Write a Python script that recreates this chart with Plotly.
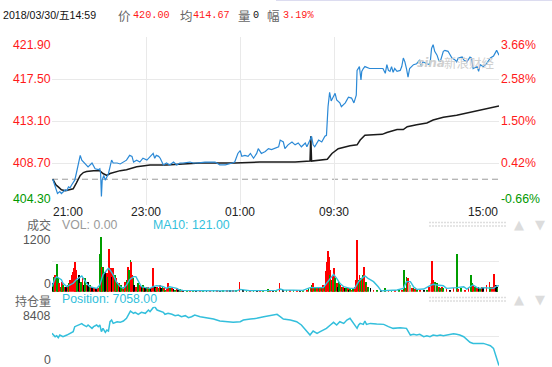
import plotly.graph_objects as go

# ---------------- data ----------------
PREV_CLOSE = 407.0
TOTAL_MIN = 570
tick_minutes = [0, 120, 240, 360, 570]
tick_labels = ["21:00", "23:00", "01:00", "09:30", "15:00"]
price_ticks = [404.3, 408.7, 413.1, 417.5, 421.9]
vol_ticks = [0, 600, 1200]
pos_ticks = [0, 4204, 8408]

price_time = [1, 5, 7, 10, 12, 17, 19, 21, 23, 25, 27, 29, 31, 34, 36, 38, 42, 46, 51, 55,
              59, 61, 62, 63, 64, 66, 68, 70, 72, 74, 76, 78, 83, 87, 91, 95, 99, 102, 104, 108,
              112, 116, 121, 125, 129, 131, 133, 136, 138, 142, 146, 150, 155, 159, 163, 167, 172, 176, 180, 185,
              195, 208, 214, 221, 230, 233, 237, 240, 242, 246, 250, 253, 257, 261, 263, 267, 272, 276, 280, 284,
              289, 291, 295, 297, 301, 306, 310, 314, 318, 323, 325, 329, 331, 333, 335, 340, 344, 348, 350, 352,
              354, 356, 358, 361, 363, 367, 369, 374, 378, 382, 385, 388, 389, 392, 394, 395, 397, 399, 405, 414,
              422, 425, 427, 429, 431, 433, 435, 437, 440, 444, 446, 448, 450, 452, 454, 456, 459, 461, 465, 469,
              471, 473, 478, 482, 484, 486, 488, 491, 493, 495, 499, 501, 505, 510, 514, 516, 518, 523, 525, 529,
              533, 535, 537, 542, 544, 546, 550, 554, 559, 563, 567, 569, 570]
price_value = [407.0, 405.9, 405.5, 405.7, 405.5, 405.9, 405.8, 406.2, 406.1, 406.4, 406.6, 406.9, 407.6, 408.7, 409.5, 409.0, 408.7, 408.3, 408.7, 408.1,
               408.0, 408.1, 407.6, 405.2, 406.9, 407.4, 406.9, 407.3, 407.6, 408.3, 409.0, 408.7, 408.7, 408.6, 408.8, 409.0, 409.5, 409.4, 408.8, 409.0,
               408.8, 409.2, 409.0, 409.4, 409.7, 409.2, 409.5, 409.4, 409.2, 408.5, 408.7, 408.5, 408.8, 408.5, 408.7, 408.7, 408.8, 408.8, 408.7, 408.7,
               408.8, 408.8, 408.5, 408.5, 408.7, 408.8, 409.7, 410.0, 409.4, 409.5, 409.4, 409.7, 409.2, 409.7, 410.2, 409.7, 409.9, 410.2, 410.1, 410.2,
               410.4, 411.1, 410.9, 410.2, 410.6, 410.9, 410.6, 410.8, 410.4, 410.8, 410.4, 411.1, 411.5, 410.6, 410.4, 411.1, 410.9, 411.5, 411.6, 414.6,
               416.1, 415.2, 415.5, 416.0, 415.3, 415.0, 414.6, 415.0, 415.6, 415.5, 415.0, 415.8, 418.4, 418.8, 417.4, 418.3, 418.6, 418.8, 418.6, 418.6,
               418.6, 418.1, 419.0, 418.4, 418.3, 418.8, 418.2, 418.6, 418.3, 418.4, 418.8, 419.7, 419.3, 418.6, 417.7, 418.6, 418.8, 419.0, 419.1, 419.5,
               418.8, 419.3, 419.1, 419.0, 420.7, 421.1, 420.4, 420.0, 419.5, 419.3, 420.4, 420.5, 420.4, 419.7, 419.5, 419.3, 419.7, 419.8, 419.5, 419.3,
               419.8, 419.7, 418.6, 418.8, 418.3, 419.0, 418.8, 419.1, 419.7, 419.9, 420.5, 420.2, 420.0]

avg_time = [1, 5, 8, 12, 17, 21, 27, 31, 36, 40, 44, 53, 61, 65, 70, 74, 78, 87, 95, 99,
            108, 125, 146, 167, 189, 233, 265, 310, 329, 330, 331, 351, 357, 365, 374, 380, 389, 393, 399, 421,
            427, 440, 448, 453, 465, 478, 486, 499, 516, 533, 550, 569, 570]
avg_value = [407.0, 406.4, 406.2, 405.9, 405.8, 405.9, 406.0, 406.6, 407.4, 407.7, 407.8, 407.9, 407.9, 407.6, 407.4, 407.6, 407.7, 407.9, 408.0, 408.1,
             408.3, 408.5, 408.5, 408.6, 408.7, 408.7, 408.8, 408.8, 408.9, 411.5, 408.9, 409.1, 409.7, 410.2, 410.4, 410.5, 410.6, 411.1, 411.6, 411.7,
             411.9, 412.2, 412.2, 412.5, 412.7, 412.9, 413.2, 413.5, 413.7, 414.0, 414.3, 414.6, 414.67]

vol_time = [1, 3, 4, 6, 7, 8, 9, 11, 13, 14, 16, 18, 20, 21, 23, 25, 26, 28, 29, 31,
            32, 34, 36, 37, 39, 41, 42, 44, 46, 48, 49, 51, 53, 54, 56, 58, 59, 61, 62, 64,
            65, 67, 68, 70, 71, 73, 75, 76, 78, 80, 82, 83, 85, 87, 88, 90, 92, 93, 95, 97,
            98, 100, 101, 102, 104, 105, 107, 109, 110, 112, 114, 116, 117, 119, 121, 122, 124, 126, 127, 129,
            131, 133, 134, 136, 138, 139, 141, 143, 144, 146, 148, 150, 153, 155, 157, 159, 161, 163, 165, 167,
            172, 176, 180, 184, 189, 193, 197, 201, 206, 210, 214, 218, 223, 227, 231, 235, 239, 244, 248, 252,
            257, 261, 265, 269, 275, 278, 282, 286, 290, 295, 299, 303, 308, 312, 316, 320, 325, 327, 330, 332,
            333, 335, 338, 340, 342, 344, 346, 348, 349, 350, 352, 353, 354, 355, 357, 358, 360, 361, 363, 365,
            366, 368, 370, 371, 373, 375, 377, 378, 380, 382, 384, 386, 388, 389, 391, 392, 394, 395, 397, 398,
            400, 401, 403, 406, 410, 414, 420, 425, 429, 433, 437, 442, 446, 449, 451, 452, 454, 455, 457, 459,
            461, 463, 465, 469, 474, 478, 481, 483, 485, 486, 488, 490, 491, 493, 495, 497, 499, 503, 508, 512,
            516, 518, 522, 527, 531, 534, 536, 537, 539, 542, 544, 546, 548, 550, 554, 558, 559, 561, 564, 566,
            567, 568]
vol_value = [170, 300, 340, 550, 240, 270, 170, 100, 200, 135, 100, 100, 135, 170, 236, 337, 404, 485, 592, 437,
             236, 337, 168, 202, 269, 135, 269, 135, 202, 135, 121, 100, 100, 81, 67, 100, 67, 754, 1097, 505,
             505, 370, 404, 370, 303, 861, 471, 303, 471, 337, 269, 202, 168, 100, 135, 67, 100, 202, 236, 505,
             437, 640, 606, 337, 269, 135, 100, 135, 168, 135, 100, 135, 67, 81, 100, 100, 81, 67, 67, 485,
             100, 67, 100, 67, 135, 67, 100, 67, 34, 67, 168, 67, 67, 47, 34, 67, 34, 47, 34, 27,
             20, 20, 20, 13, 20, 20, 13, 13, 27, 20, 13, 27, 20, 20, 27, 20, 188, 34, 20, 27,
             20, 13, 20, 20, 47, 27, 20, 20, 168, 20, 27, 20, 20, 27, 20, 34, 27, 67, 100, 135,
             168, 100, 67, 100, 100, 67, 135, 100, 417, 606, 821, 707, 337, 437, 236, 337, 485, 269, 168, 100,
             202, 135, 100, 100, 67, 81, 67, 34, 67, 34, 67, 100, 236, 1043, 236, 337, 283, 269, 337, 505,
             202, 135, 100, 67, 34, 34, 20, 67, 34, 34, 20, 27, 34, 437, 67, 303, 269, 168, 135, 67,
             67, 47, 34, 34, 27, 34, 100, 168, 619, 236, 202, 135, 168, 100, 67, 100, 67, 47, 34, 67,
             754, 54, 67, 34, 67, 337, 168, 135, 100, 67, 100, 67, 100, 67, 135, 202, 100, 100, 350, 135,
             100, 67]
vol_side = ["k", "g", "r", "g", "r", "g", "r", "g", "r", "g", "r", "k", "r", "g", "r", "r", "r", "r", "r", "r",
            "g", "k", "r", "g", "r", "k", "g", "r", "k", "g", "r", "k", "g", "r", "k", "g", "r", "g", "g", "r",
            "g", "r", "k", "r", "g", "r", "r", "k", "r", "g", "r", "g", "r", "k", "g", "r", "g", "r", "g", "r",
            "g", "g", "r", "r", "g", "k", "r", "k", "g", "r", "k", "g", "r", "k", "g", "r", "g", "k", "r", "r",
            "k", "g", "r", "g", "r", "k", "g", "r", "g", "r", "r", "g", "r", "k", "g", "r", "k", "g", "r", "k",
            "g", "r", "g", "k", "r", "g", "k", "r", "g", "r", "k", "g", "r", "k", "r", "g", "r", "k", "g", "r",
            "g", "k", "r", "g", "g", "r", "k", "g", "r", "k", "g", "r", "g", "r", "k", "g", "r", "g", "r", "g",
            "r", "g", "r", "g", "r", "g", "r", "g", "r", "r", "r", "r", "g", "r", "g", "r", "r", "g", "r", "k",
            "g", "r", "g", "r", "k", "g", "r", "k", "g", "r", "g", "r", "r", "r", "g", "r", "g", "r", "g", "r",
            "g", "r", "g", "k", "r", "g", "k", "g", "r", "g", "r", "g", "r", "g", "r", "g", "r", "p", "lg", "r",
            "g", "r", "g", "r", "k", "g", "r", "p", "r", "r", "g", "p", "g", "r", "g", "r", "g", "r", "k", "r",
            "g", "r", "g", "r", "r", "g", "g", "r", "g", "r", "k", "g", "r", "k", "r", "r", "g", "r", "r", "k",
            "k", "g"]

ma_time = [0, 2, 4, 6, 8, 10, 12, 14, 19, 23, 27, 31, 36, 38, 40, 44, 48, 53, 57, 61,
           63, 65, 70, 72, 74, 78, 82, 87, 91, 95, 99, 104, 107, 110, 114, 119, 125, 129, 133, 138,
           142, 146, 150, 155, 159, 163, 167, 189, 210, 235, 240, 244, 252, 286, 291, 295, 320, 329, 337, 346,
           350, 355, 359, 363, 367, 372, 380, 386, 391, 395, 399, 403, 410, 416, 420, 423, 440, 448, 452, 457,
           461, 465, 474, 482, 486, 491, 499, 503, 508, 516, 525, 529, 533, 537, 542, 546, 550, 559, 563, 567, 570]
ma_value = [100, 170, 270, 300, 280, 270, 240, 170, 100, 135, 170, 240, 300, 316, 270, 170, 100, 81, 67, 135,
            240, 337, 437, 471, 437, 337, 202, 100, 67, 135, 240, 303, 303, 202, 100, 81, 67, 100, 121, 114,
            100, 67, 100, 81, 67, 34, 27, 20, 20, 13, 47, 34, 20, 27, 54, 34, 27, 81, 87, 81,
            168, 269, 350, 269, 168, 100, 67, 67, 202, 269, 316, 269, 202, 100, 13, 20, 34, 67, 202, 202,
            100, 47, 54, 121, 148, 135, 121, 67, 67, 81, 100, 54, 100, 135, 81, 67, 81, 67, 67, 114, 121]

pos_time = [0, 2, 4, 6, 8, 10, 14, 19, 23, 27, 29, 34, 38, 40, 44, 46, 51, 53, 57, 59,
            61, 63, 65, 68, 70, 72, 74, 76, 78, 83, 87, 91, 95, 100, 104, 106, 110, 114, 119, 123,
            125, 129, 131, 134, 138, 142, 144, 148, 153, 157, 161, 165, 170, 174, 178, 182, 189, 197, 206, 214,
            223, 231, 240, 244, 253, 261, 270, 278, 287, 291, 295, 304, 312, 318, 325, 329, 333, 338, 342, 346,
            350, 355, 359, 363, 367, 372, 376, 380, 384, 389, 391, 393, 397, 399, 401, 406, 414, 423, 429, 435,
            444, 452, 457, 461, 465, 469, 474, 478, 482, 486, 491, 495, 499, 503, 508, 512, 516, 520, 525, 529,
            533, 537, 542, 550, 554, 559, 563, 567, 570]
pos_value = [4610, 4370, 4130, 4280, 3990, 4370, 4130, 4370, 4610, 4850, 5560, 5800, 5990, 5800, 5560, 5800, 5320, 5560, 5800, 5560,
             5800, 4850, 5320, 4750, 5080, 4940, 6270, 6510, 6030, 6270, 6180, 6370, 6750, 7790, 7460, 7600, 7320, 7600, 7460, 7930,
             7700, 8270, 8408, 7930, 7790, 7600, 7320, 7460, 7320, 7130, 7220, 6980, 7130, 6840, 6980, 7220, 6980, 6840, 6650, 6370,
             6270, 6180, 6270, 6510, 6650, 6750, 6980, 7130, 7320, 6980, 6650, 6510, 6270, 5800, 4940, 4370, 4940, 4610, 4850, 5080,
             5320, 5800, 6180, 5800, 6270, 6030, 6510, 6750, 6030, 5320, 5800, 6030, 5890, 6370, 5890, 6030, 5940, 5890, 5560, 5320,
             5420, 5320, 4370, 4470, 4370, 4470, 4130, 4280, 4130, 4370, 4280, 4370, 4280, 4370, 4470, 4560, 4470, 4370, 4130, 3660,
             3330, 3180, 3180, 3180, 3040, 2850, 2470, 1050, 0]

header_date = "2018/03/30/五14:59"
last_price = "420.00"
avg_price = "414.67"
last_vol = "0"
change_pct = "3.19%"
vol_now = "VOL: 0.00"
ma10_now = "MA10: 121.00"
pos_now = "Position: 7058.00"

# ---------------- styling ----------------
W, H = 552, 367
FONT = "Liberation Sans, Arial, sans-serif"
CJK = "Noto Sans CJK SC, sans-serif"
RED = "#ff1a1a"
GREEN = "#009900"
GRID = "#e9e9e9"
CYAN = "#33bfdc"
side_colors = {"r": "#ff0000", "g": "#009d00", "k": "#000000", "p": "#ff8c8c", "lg": "#8fd18f"}


def fx(p):
    return p / W


def fy(p):
    return 1 - p / H


XDOM = [fx(52), fx(499)]
fig = go.Figure()

fig.add_trace(go.Scatter(x=avg_time, y=avg_value, mode="lines",
                         line=dict(color="#1b1b1b", width=1.5), xaxis="x", yaxis="y", hoverinfo="skip"))
fig.add_trace(go.Scatter(x=price_time, y=price_value, mode="lines",
                         line=dict(color="#2b89d6", width=1.2), xaxis="x", yaxis="y", hoverinfo="skip"))
fig.add_trace(go.Bar(x=vol_time, y=vol_value, width=1.0,
                     marker=dict(color=[side_colors[s] for s in vol_side], line=dict(width=0)),
                     xaxis="x2", yaxis="y2", hoverinfo="skip"))
fig.add_trace(go.Scatter(x=ma_time, y=ma_value, mode="lines",
                         line=dict(color=CYAN, width=1.4), xaxis="x2", yaxis="y2", hoverinfo="skip"))
fig.add_trace(go.Scatter(x=pos_time, y=pos_value, mode="lines",
                         line=dict(color=CYAN, width=1.5), xaxis="x3", yaxis="y3", hoverinfo="skip"))

axis_common = dict(range=[0, TOTAL_MIN], domain=XDOM, showticklabels=False, zeroline=False,
                   showline=False, ticks="", fixedrange=True)
fig.update_layout(
    width=W, height=H, margin=dict(l=0, r=0, t=0, b=0, pad=0),
    paper_bgcolor="white", plot_bgcolor="white", showlegend=False, bargap=0,
    xaxis=dict(**axis_common, anchor="y", showgrid=True, gridcolor=GRID, gridwidth=1,
               tickvals=tick_minutes[1:4]),
    yaxis=dict(domain=[fy(205), fy(37)], range=[price_ticks[0], price_ticks[-1]], tickvals=price_ticks,
               showgrid=True, gridcolor=GRID, showticklabels=False, zeroline=False, ticks="", anchor="x"),
    xaxis2=dict(**axis_common, anchor="y2", showgrid=False),
    yaxis2=dict(domain=[fy(291.7), fy(232)], range=[0, vol_ticks[-1]], tickvals=vol_ticks,
                showgrid=True, gridcolor=GRID, showticklabels=False, zeroline=False, ticks="", anchor="x2"),
    xaxis3=dict(**axis_common, anchor="y3", showgrid=False),
    yaxis3=dict(domain=[fy(365.7), fy(306.7)], range=[0, pos_ticks[-1]], tickvals=pos_ticks,
                showgrid=True, gridcolor=GRID, showticklabels=False, zeroline=False, ticks="", anchor="x3"),
)

shapes = [
    dict(type="line", xref="x", yref="y", x0=0, x1=TOTAL_MIN, y0=PREV_CLOSE, y1=PREV_CLOSE,
         line=dict(color="#9a9a9a", width=1, dash="6px,4px"), layer="below"),
    dict(type="line", xref="paper", yref="paper", x0=fx(276), x1=1, y0=fy(0.5), y1=fy(0.5),
         line=dict(color="#dcdcf0", width=1)),
]
for yy in (222.5, 226):
    for base in (0, 75):
        shapes.append(dict(type="line", xref="paper", yref="paper", x0=fx(429), x1=fx(506),
                           y0=fy(yy + base), y1=fy(yy + base),
                           line=dict(color="#dedede", width=1.5, dash="2px,1px")))
fig.update_layout(shapes=shapes)

ann = []


def A(text, x, y, color, size=12.3, xanchor="left", family=FONT, xref="paper", yref="paper", yshift=0):
    ann.append(dict(text=text, x=x, y=y, xref=xref, yref=yref, showarrow=False, xanchor=xanchor,
                    yanchor="middle", yshift=yshift, borderpad=0,
                    font=dict(color=color, size=size, family=family)))


# header
A(header_date, fx(2), fy(15), "#111", size=10.6, family="Liberation Sans, " + CJK)
A("价", fx(117), fy(15), "#666", size=12.5, family=CJK)
A(last_price, fx(132), fy(15), RED, size=10.2, family="Liberation Mono, monospace")
A("均", fx(179), fy(15), "#666", size=12.5, family=CJK)
A(avg_price, fx(192), fy(15), RED, size=10.2, family="Liberation Mono, monospace")
A("量", fx(237), fy(15), "#666", size=12.5, family=CJK)
A(last_vol, fx(252), fy(15), "#111", size=10.2, family="Liberation Mono, monospace")
A("幅", fx(266), fy(15), "#666", size=12.5, family=CJK)
A(change_pct, fx(282), fy(15), RED, size=10.2, family="Liberation Mono, monospace")

# price and percent labels
n = len(price_ticks)
for i, v in enumerate(price_ticks):
    shift = -8 if i == n - 1 else (6 if i == 0 else 0)
    col = RED if v > PREV_CLOSE else GREEN
    pct = (v / PREV_CLOSE - 1) * 100
    A(f"{v:.2f}", fx(51.5), v, col, xanchor="right", yref="y", yshift=shift)
    A(f"{pct:.2f}%", fx(500), v, col, xanchor="left", yref="y", yshift=shift)

# time labels
anchors = ["left", "center", "center", "center", "right"]
for t, lab, an in zip(tick_minutes, tick_labels, anchors):
    A(lab, t, fy(212.5), "#222", size=12, xanchor=an, xref="x")

# volume panel
A("成交", fx(52), fy(224.5), "#666", size=12, xanchor="right", family=CJK)
A(vol_now, fx(61), fy(224.5), "#9a9a9a", size=12.3)
A(ma10_now, fx(152), fy(224.5), CYAN, size=12.3)
A(str(vol_ticks[-1]), fx(51.5), vol_ticks[-1], "#555", xanchor="right", yref="y2", yshift=-8)
A(str(vol_ticks[0]), fx(51.5), vol_ticks[0], "#555", xanchor="right", yref="y2", yshift=7.5)

# position panel
A("持仓量", fx(52), fy(300), "#666", size=12, xanchor="right", family=CJK)
A(pos_now, fx(61), fy(299), CYAN, size=12.3)
A(str(pos_ticks[-1]), fx(51.5), pos_ticks[-1], "#555", xanchor="right", yref="y3", yshift=-9)
A(str(pos_ticks[0]), fx(51.5), pos_ticks[0], "#555", xanchor="right", yref="y3", yshift=6)

# scroll arrows
for yy in (224, 299):
    A("▲", fx(519), fy(yy), "#dcdcdc", size=13, xanchor="center", family="DejaVu Sans")
    A("▼", fx(540), fy(yy), "#dcdcdc", size=13, xanchor="center", family="DejaVu Sans")

# watermark
A("<i><b>sina</b></i>", fx(416), fy(63), "#cfcfcf", size=12, family="DejaVu Sans")
A("新浪财经", fx(443), fy(63), "#cfcfcf", size=12.5, family=CJK)

fig.update_layout(annotations=ann)
fig.write_html("out.html", config={"displayModeBar": False},
               post_script="document.body.style.margin='0px';document.body.style.overflow='hidden';")
